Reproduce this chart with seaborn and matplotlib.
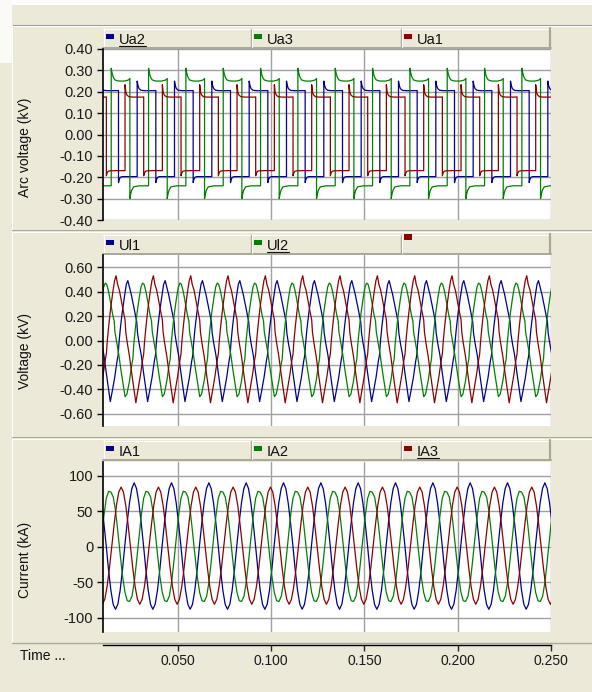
import numpy as np
import pandas as pd
import matplotlib
matplotlib.use("Agg")
import matplotlib.pyplot as plt
import seaborn as sns
from matplotlib.patches import Rectangle
from matplotlib.lines import Line2D
from matplotlib.transforms import Affine2D

# ---- data (50 Hz, one cycle per signal) ----
PERIOD = 0.02
T_MIN, T_MAX = 0.01, 0.25
time_ticks = [0.05, 0.10, 0.15, 0.20, 0.25]

# arc voltages (kV), one cycle starting at the rising edge
arc_phase = [0.0, 0.02, 0.05, 0.10, 0.20, 0.35, 0.46, 0.50,
             0.50, 0.52, 0.55, 0.60, 0.75, 0.90, 1.00]
ua2_cycle = [0.25, 0.23, 0.215, 0.207, 0.205, 0.205, 0.205, 0.206,
             -0.225, -0.21, -0.20, -0.197, -0.197, -0.197, -0.197]
ua3_cycle = [0.31, 0.29, 0.27, 0.255, 0.25, 0.25, 0.255, 0.262,
             -0.30, -0.28, -0.26, -0.245, -0.24, -0.24, -0.24]
ua1_cycle = [0.233, 0.20, 0.185, 0.177, 0.175, 0.175, 0.175, 0.176,
             -0.193, -0.18, -0.172, -0.17, -0.169, -0.169, -0.169]
arc_rise = {"Ua2": 0.0283, "Ua3": 0.0144, "Ua1": 0.0218}

# phase voltages (kV), one cycle starting at the peak
u_phase = [0.00, 0.04, 0.09, 0.15, 0.20, 0.24, 0.26, 0.30, 0.36, 0.42, 0.48,
           0.53, 0.58, 0.65, 0.71, 0.74, 0.76, 0.80, 0.85, 0.91, 0.96]
ul1_cycle = [0.49, 0.44, 0.38, 0.29, 0.21, 0.15, 0.06, -0.02, -0.12, -0.26, -0.39,
             -0.50, -0.42, -0.30, -0.17, -0.12, -0.03, 0.10, 0.23, 0.36, 0.46]
ul2_cycle = [0.47, 0.46, 0.40, 0.30, 0.21, 0.16, 0.07, 0.00, -0.11, -0.24, -0.36,
             -0.46, -0.44, -0.33, -0.20, -0.15, -0.05, 0.08, 0.22, 0.35, 0.44]
ul3_cycle = [0.53, 0.46, 0.41, 0.31, 0.23, 0.17, 0.07, -0.02, -0.13, -0.27, -0.40,
             -0.51, -0.42, -0.29, -0.16, -0.11, -0.02, 0.11, 0.25, 0.39, 0.49]
u_peak = {"Ul1": 0.0233, "Ul2": 0.0112, "Ul3": 0.0170}

# arc currents (kA), one cycle starting at the peak
i_phase = [k / 16 for k in range(16)]
ia1_cycle = [90, 82, 62, 34, 2, -32, -61, -81, -88, -81, -61, -32, 2, 34, 62, 82]
ia2_cycle = [78, 77, 70, 50, 20, -12, -42, -64, -76, -77, -70, -50, -20, 12, 44, 68]
ia3_cycle = [84, 77, 58, 31, 0, -30, -56, -74, -81, -74, -56, -30, 0, 31, 58, 77]
i_peak = {"IA1": 0.0267, "IA2": 0.0130, "IA3": 0.0197}

BLUE, GREEN, RED = "#00008C", "#008000", "#8C0000"
BG = "#ECE9D8"
EDGE = "#ACA899"
GRID = "#A0A0A0"
W, H = 592, 692
FS = 10.5


def repeat_cycle(phase, values, t_ref):
    ts, vs = [], []
    for k in range(-1, 13):
        ts.extend(t_ref + (k + np.asarray(phase)) * PERIOD)
        vs.extend(values)
    return ts, vs


def make_frame(cycles, phase, refs):
    parts = []
    for name, vals in cycles.items():
        t, v = repeat_cycle(phase, vals, refs[name])
        parts.append(pd.DataFrame({"t": t, "v": v, "sig": name}))
    return pd.concat(parts, ignore_index=True)


arc_df = make_frame({"Ua2": ua2_cycle, "Ua3": ua3_cycle, "Ua1": ua1_cycle}, arc_phase, arc_rise)
u_df = make_frame({"Ul1": ul1_cycle, "Ul2": ul2_cycle, "Ul3": ul3_cycle}, u_phase, u_peak)
i_df = make_frame({"IA1": ia1_cycle, "IA2": ia2_cycle, "IA3": ia3_cycle}, i_phase, i_peak)

sns.set_style("white")
plt.rcParams["font.family"] = ["Liberation Sans", "DejaVu Sans"]
plt.rcParams["font.size"] = FS

fig = plt.figure(figsize=(W / 100, H / 100), dpi=100, facecolor=BG)
px = Affine2D().scale(1.0 / W, -1.0 / H).translate(0, 1) + fig.transFigure


def rect(x0, y0, x1, y1, color, z=-5):
    fig.add_artist(Rectangle((x0, y0), x1 - x0, y1 - y0, transform=px,
                             facecolor=color, edgecolor="none", zorder=z))


def line(xs, ys, color, lw=0.75, z=-4):
    fig.add_artist(Line2D(xs, ys, transform=px, color=color, lw=lw, zorder=z))


def axes_px(x0, y0, x1, y1):
    return fig.add_axes([x0 / W, 1 - y1 / H, (x1 - x0) / W, (y1 - y0) / H])


# window chrome
rect(0, 0, W, 5, "white")
rect(0, 0, 12, 63, "#FAFAF6")

panels = [
    dict(frame=(12, 25, 592, 229), strip=(103, 28, 551, 48), plot=(103, 49, 551, 220),
         df=arc_df, order=["Ua2", "Ua3", "Ua1"], labels=["Ua2", "Ua3", "Ua1"],
         under=[True, False, False], ylim=(-0.4, 0.4),
         yticks=[0.4, 0.3, 0.2, 0.1, 0.0, -0.1, -0.2, -0.3, -0.4], fmt="{:.2f}",
         ylabel="Arc voltage (kV)", ylab_y=147, top_gray=True),
    dict(frame=(12, 232, 592, 436), strip=(103, 234, 551, 254), plot=(103, 255, 551, 426),
         df=u_df, order=["Ul1", "Ul2", "Ul3"], labels=["Ul1", "Ul2", ""],
         under=[False, True, False], ylim=(-0.7, 0.7),
         yticks=[0.6, 0.4, 0.2, 0.0, -0.2, -0.4, -0.6], fmt="{:.2f}",
         ylabel="Voltage (kV)", ylab_y=351, top_gray=False),
    dict(frame=(12, 439, 592, 643), strip=(103, 440, 551, 460), plot=(103, 461.5, 551, 632),
         df=i_df, order=["IA1", "IA2", "IA3"], labels=["IA1", "IA2", "IA3"],
         under=[False, False, True], ylim=(-120, 120),
         yticks=[100, 50, 0, -50, -100], fmt="{:.0f}",
         ylabel="Current (kA)", ylab_y=560, top_gray=False),
]

cells = [103, 251, 401, 551]
underlined = []

for p in panels:
    fx0, fy0, fx1, fy1 = p["frame"]
    if p["top_gray"]:
        line([fx0, fx1], [fy0, fy0], "#9A9A9A")
        line([fx0, fx1], [fy0 + 1.2, fy0 + 1.2], "white")
    else:
        line([fx0, fx1], [fy0, fy0], "white")
        line([fx0, fx1], [fy0 - 2.5, fy0 - 2.5], EDGE)
    line([fx0, fx0], [fy0, fy1], "white")

    # legend strip
    sx0, sy0, sx1, sy1 = p["strip"]
    line([sx0, sx1], [sy0 + 0.5, sy0 + 0.5], "white")
    line([sx0 + 0.5, sx0 + 0.5], [sy0, sy1], "white")
    line([sx0, sx1], [sy1 - 0.5, sy1 - 0.5], EDGE, lw=1.4)
    line([sx1 - 0.7, sx1 - 0.7], [sy0, sy1], EDGE, lw=1.6)
    for cx in cells[1:3]:
        line([cx - 0.5, cx - 0.5], [sy0 + 1, sy1 - 1], EDGE, lw=1.0)
        line([cx + 0.6, cx + 0.6], [sy0 + 1, sy1 - 1], "white")
    colors = [BLUE, GREEN, RED]
    for k in range(3):
        cx = cells[k]
        if p["labels"][k]:
            rect(cx + 3, sy0 + 6, cx + 11, sy0 + 11, colors[k], z=2)
            t = fig.text(cx + 16, sy0 + 16, p["labels"][k], transform=px,
                         ha="left", va="baseline", color="#111111", fontsize=FS)
            if p["under"][k]:
                underlined.append((t, sy0 + 17.5))
        else:
            rect(cx + 3, sy0, cx + 11, sy0 + 6, colors[k], z=2)

    ax = axes_px(*p["plot"])
    sns.lineplot(data=p["df"], x="t", y="v", hue="sig", hue_order=p["order"],
                 palette=colors, estimator=None, sort=False, legend=False,
                 lw=0.9, ax=ax)
    ax.set_xlim(T_MIN, T_MAX)
    ax.set_ylim(*p["ylim"])
    ax.set_yticks(p["yticks"])
    ax.set_yticklabels([p["fmt"].format(v) for v in p["yticks"]])
    ax.set_xticks(time_ticks)
    ax.set_xlabel("")
    ax.set_ylabel("")
    ax.tick_params(axis="x", length=0, labelbottom=False)
    ax.tick_params(axis="y", direction="out", length=4.5, width=1, color="black",
                   pad=2.5, labelsize=FS, labelcolor="#1A1A1A", left=True)
    ax.grid(True, color=GRID, lw=1.0)
    ax.set_axisbelow(True)
    ax.set_facecolor("white")
    for s in ["top", "right", "bottom"]:
        ax.spines[s].set_visible(False)
    ax.spines["left"].set_color("black")
    ax.spines["left"].set_linewidth(1.2)

    fig.text(25, p["ylab_y"], p["ylabel"], transform=px, rotation=90,
             ha="center", va="center", fontsize=10, color="#111111")

# bottom gray edge of the last panel
line([12, W], [643, 643], EDGE, lw=1.0)

# shared time axis
ax_t = axes_px(103, 640, 551, 645)
ax_t.set_facecolor("none")
ax_t.set_xlim(T_MIN, T_MAX)
ax_t.set_xticks(time_ticks)
ax_t.set_xticklabels(["{:.3f}".format(v) for v in time_ticks])
ax_t.set_yticks([])
for s in ["top", "right", "left"]:
    ax_t.spines[s].set_visible(False)
ax_t.spines["bottom"].set_color("black")
ax_t.spines["bottom"].set_linewidth(1.0)
ax_t.tick_params(axis="x", direction="out", length=4, width=1, pad=2.5,
                 labelsize=10, labelcolor="#1A1A1A", bottom=True)
fig.text(20, 656, "Time ...", transform=px, ha="left", va="center",
         fontsize=10, color="#111111")

# underline the selected legend entries
renderer = fig.canvas.get_renderer()
for t, yline in underlined:
    bb = t.get_window_extent(renderer)
    line([bb.x0, bb.x1], [yline, yline], "#111111", lw=0.8, z=3)

fig.savefig("out.png", dpi=100, facecolor=BG)
